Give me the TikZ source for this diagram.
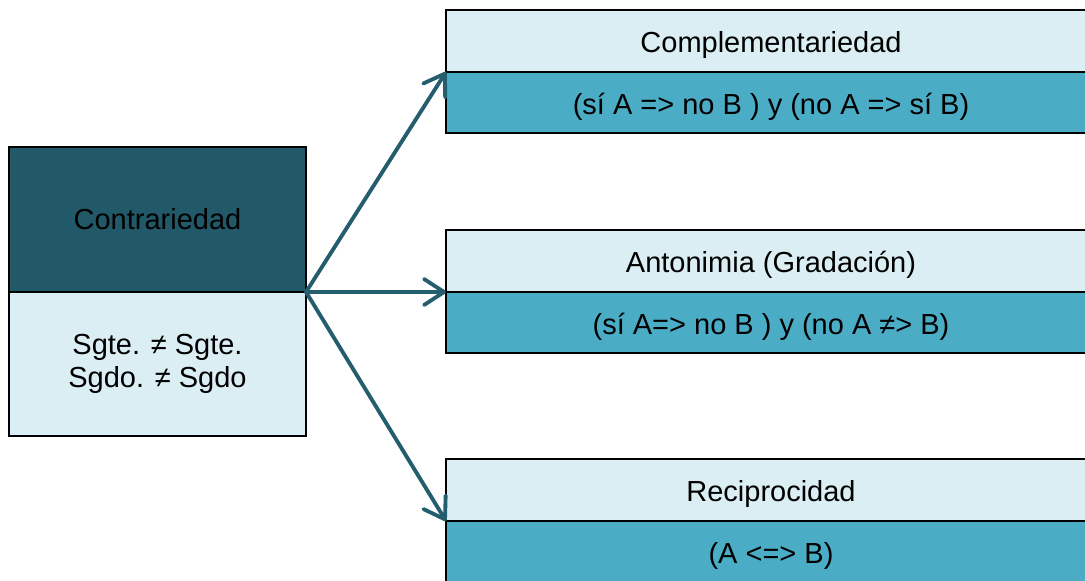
\documentclass[tikz,border=0pt]{standalone}
\usepackage{fontspec}
\setmainfont{Liberation Sans}
\usetikzlibrary{arrows.meta, positioning}
\definecolor{tealdark}{HTML}{215968}
\definecolor{teallight}{HTML}{DAEEF3}
\definecolor{tealmid}{HTML}{4BACC6}
\definecolor{arrowc}{HTML}{245E6E}
\tikzset{
  hdr/.style  ={draw, fill=tealdark, line width=0.8pt, outer sep=0pt, inner sep=0pt, minimum width=5.94cm, minimum height=2.9cm, font=\fontsize{16.5}{19}\selectfont},
  hdrR/.style ={draw, fill=teallight, line width=0.8pt, outer sep=0pt, inner sep=0pt, minimum width=13cm, minimum height=1.24cm, text height=13.5pt, text depth=0pt, font=\fontsize{16.5}{19}\selectfont},
  defL/.style ={draw, fill=teallight, line width=0.8pt, outer sep=0pt, inner sep=0pt, minimum width=5.94cm, minimum height=2.88cm, align=center, font=\fontsize{16.5}{19}\selectfont},
  defR/.style ={draw, fill=tealmid, line width=0.8pt, outer sep=0pt, inner sep=0pt, minimum width=13cm, minimum height=1.22cm, text height=13.5pt, text depth=0pt, font=\fontsize{16.5}{19}\selectfont},
  rel/.style  ={-{Straight Barb[length=4mm, width=5.2mm, round]}, line width=2.2pt, arrowc, line cap=round},
}
\begin{document}
\begin{tikzpicture}
  \useasboundingbox (0,0) rectangle (21.7,-11.6);
  \node[hdr] (contr) at (3.15,-4.39) {Contrariedad};
  \node[defL, below=0pt of contr] (contrdef) {Sgte. ≠ Sgte.\\Sgdo. ≠ Sgdo};
  \node[hdrR] (compl) at (15.42,-0.82) {Complementariedad};
  \node[defR, below=0pt of compl] (compldef) {(sí A => no B ) y (no A => sí B)};
  \node[hdrR] (anto) at (15.42,-5.22) {Antonimia (Gradación)};
  \node[defR, below=0pt of anto] (antodef) {(sí A=> no B ) y (no A ≠> B)};
  \node[hdrR] (recip) at (15.42,-9.8) {Reciprocidad};
  \node[defR, below=0pt of recip] (recipdef) {(A <=> B)};
  \draw[rel] (contr.south east) -- (compl.south west);
  \draw[rel] (contr.south east) -- (anto.south west);
  \draw[rel] (contr.south east) -- (recip.south west);
\end{tikzpicture}
\end{document}
